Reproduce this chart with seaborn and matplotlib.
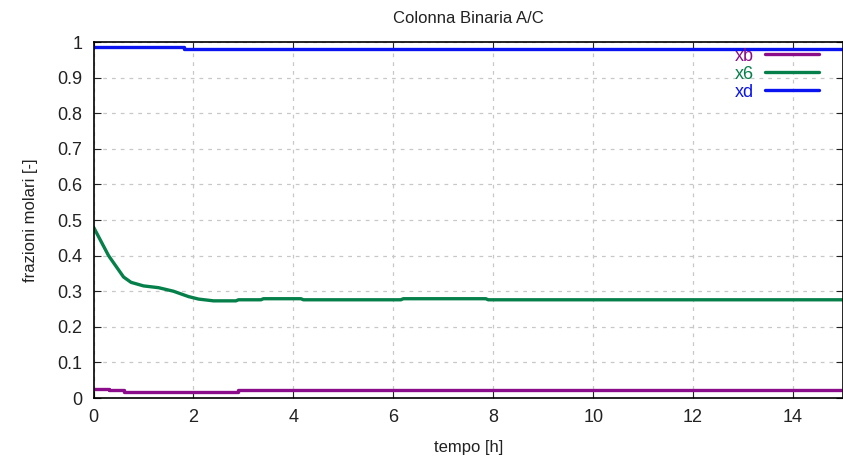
import numpy as np
import pandas as pd
import matplotlib
matplotlib.use("Agg")
import matplotlib.pyplot as plt
import seaborn as sns

# tempo [h] e frazioni molari
t_xb = [0.0, 0.3, 0.6, 2.9, 15.0]
xb = [0.025, 0.022, 0.018, 0.022, 0.022]

t_x6 = [0.0, 0.15, 0.3, 0.45, 0.6, 0.75, 1.0, 1.3, 1.6, 1.9, 2.1, 2.4, 2.85, 2.9, 3.35, 3.4,
        4.15, 4.2, 6.15, 6.2, 7.85, 7.9, 15.0]
x6 = [0.48, 0.44, 0.40, 0.37, 0.34, 0.325, 0.315, 0.31, 0.30, 0.285, 0.278, 0.273, 0.273,
      0.276, 0.276, 0.279, 0.279, 0.276, 0.276, 0.279, 0.279, 0.276, 0.276]

t_xd = [0.0, 1.8, 15.0]
xd = [0.985, 0.98, 0.98]

sns.set_style("ticks")
plt.rcParams["font.family"] = ["Liberation Sans Narrow", "Liberation Sans", "DejaVu Sans"]

fig = plt.figure(figsize=(8.43, 4.58), dpi=100)
ax = fig.add_axes([0.111, 0.131, 0.889, 0.777])

sns.lineplot(x=t_xb, y=xb, ax=ax, color="#8b0d8b", lw=2.4, label="xb", drawstyle="steps-post")
sns.lineplot(x=t_x6, y=x6, ax=ax, color="#05804a", lw=2.4, label="x6")
sns.lineplot(x=t_xd, y=xd, ax=ax, color="#0a14f0", lw=2.4, label="xd", drawstyle="steps-post")

ax.set_xlim(0, 15)
ax.set_ylim(0, 1)
ax.set_xticks(np.arange(0, 15, 2))
ax.set_yticks(np.arange(0, 1.01, 0.1))
ax.set_yticklabels(["0", "0.1", "0.2", "0.3", "0.4", "0.5", "0.6", "0.7", "0.8", "0.9", "1"])
ax.grid(True, ls=(0, (3, 4)), color="#c8c8c8", lw=0.9)
ax.tick_params(direction="in", top=True, right=True, length=5, labelsize=13,
               colors="#222222", pad=8)
for s in ax.spines.values():
    s.set_linewidth(1.2)
    s.set_color("black")

ax.set_title("Colonna Binaria A/C", fontsize=12, pad=14, color="#222222")
ax.set_xlabel("tempo [h]", fontsize=12, color="#222222", labelpad=10)
ax.set_ylabel("frazioni molari [-]", fontsize=12, color="#222222", labelpad=14)

leg = ax.legend(loc="upper right", bbox_to_anchor=(0.99, 1.03), frameon=False,
                markerfirst=False, labelcolor="linecolor", fontsize=13,
                handlelength=3.0, labelspacing=0.05, handletextpad=0.6)

fig.savefig("out.png", dpi=100)
